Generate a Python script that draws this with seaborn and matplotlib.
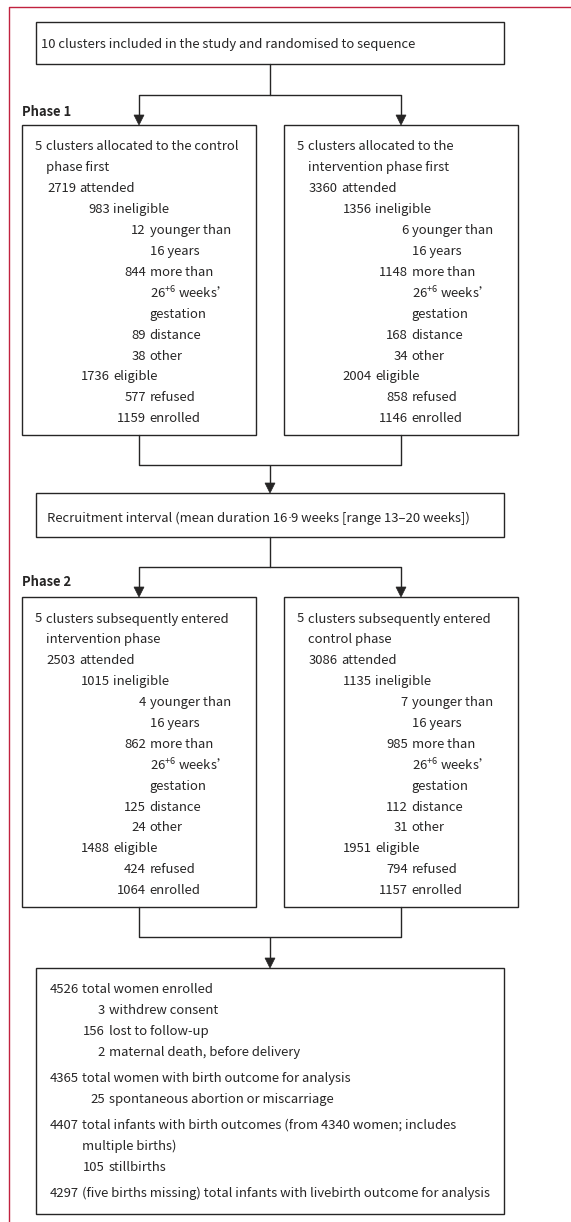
import matplotlib

matplotlib.use("Agg")
import matplotlib.pyplot as plt
import seaborn as sns
from matplotlib.patches import Polygon, Rectangle

# --- data -------------------------------------------------------------------
top_label = "10 clusters included in the study and randomised to sequence"
interval_parts = ["Recruitment interval (mean duration 16", "·", "9 weeks [range 13–20 weeks])"]
phase_labels = ["Phase 1", "Phase 2"]

header_counts = ["5", "5", "5", "5"]
header_lines = [
    ["clusters allocated to the control", "phase first"],
    ["clusters allocated to the", "intervention phase first"],
    ["clusters subsequently entered", "intervention phase"],
    ["clusters subsequently entered", "control phase"],
]

flow_labels = ["attended", "ineligible", "younger than", "16 years", "more than",
               "26$^{+6}$ weeks’", "gestation", "distance", "other", "eligible",
               "refused", "enrolled"]
flow_levels = [1, 2, 3, 3, 3, 3, 3, 3, 3, 2, 3, 3]

phase1_control = [2719, 983, 12, None, 844, None, None, 89, 38, 1736, 577, 1159]
phase1_intervention = [3360, 1356, 6, None, 1148, None, None, 168, 34, 2004, 858, 1146]
phase2_intervention = [2503, 1015, 4, None, 862, None, None, 125, 24, 1488, 424, 1064]
phase2_control = [3086, 1135, 7, None, 985, None, None, 112, 31, 1951, 794, 1157]

outcome_counts = ["4526", "3", "156", "2", "4365", "25", "4407", "", "105", "4297"]
outcome_labels = ["total women enrolled", "withdrew consent", "lost to follow-up",
                  "maternal death, before delivery",
                  "total women with birth outcome for analysis",
                  "spontaneous abortion or miscarriage",
                  "total infants with birth outcomes (from 4340 women; includes",
                  "multiple births)", "stillbirths",
                  "(five births missing) total infants with livebirth outcome for analysis"]
outcome_levels = [0, 1, 1, 1, 0, 1, 0, 0, 1, 0]
outcome_groups = [0, 0, 0, 0, 1, 1, 2, 2, 2, 3]

# --- style ------------------------------------------------------------------
sns.set_theme(style="white")
family = "Noto Sans CJK SC"
plt.rcParams["font.family"] = [family, "DejaVu Sans"]
plt.rcParams["mathtext.fontset"] = "custom"
plt.rcParams["mathtext.rm"] = family
plt.rcParams["mathtext.default"] = "regular"

INK = "#262525"
FRAME = "#c1223f"
LW = 1.0
GAP = 3.5

fig = plt.figure(figsize=(5.71, 12.22), dpi=100)
ax = fig.add_axes([0, 0, 1, 1])
ax.set_xlim(0, 571)
ax.set_ylim(1222, 0)
ax.axis("off")
renderer = fig.canvas.get_renderer()

# fit the font size so the top label has the width it has in the original
probe = ax.text(0, 0, top_label, fontsize=10)
fs = 10 * 376 / probe.get_window_extent(renderer).width
probe.remove()


def box(x0, y0, x1, y1):
    ax.add_patch(Rectangle((x0, y0), x1 - x0, y1 - y0, fill=False, ec=INK, lw=LW))


def arrow(x, y0, y1):
    ax.plot([x, x], [y0, y1 - 8], color=INK, lw=LW, solid_capstyle="butt")
    ax.add_patch(Polygon([(x - 5, y1 - 10), (x + 5, y1 - 10), (x, y1)],
                         closed=True, fc=INK, ec=INK, lw=0.5))


def split(x_left, x_right, x_mid, y_top, y_bar, y_end):
    ax.plot([x_mid, x_mid], [y_top, y_bar], color=INK, lw=LW)
    ax.plot([x_left, x_right], [y_bar, y_bar], color=INK, lw=LW)
    arrow(x_left, y_bar, y_end)
    arrow(x_right, y_bar, y_end)


def join(x_left, x_right, x_mid, y_top, y_bar, y_end):
    ax.plot([x_left, x_left, x_right, x_right], [y_top, y_bar, y_bar, y_top], color=INK, lw=LW)
    arrow(x_mid, y_bar, y_end)


def entry(x_num, y, count, label, gap=GAP):
    if count:
        ax.text(x_num, y, count, ha="right", va="center_baseline", fontsize=fs, color=INK)
    ax.text(x_num + gap, y, label, ha="left", va="center_baseline", fontsize=fs, color=INK)


def phase_box(x0, y0, idx, counts):
    cols = [20, 54, 88, 124]
    box(x0, y0, x0 + 234, y0 + 310)
    y = y0 + 20.5
    entry(x0 + cols[0], y, header_counts[idx], header_lines[idx][0])
    y += 20.9
    entry(x0 + cols[0], y, "", header_lines[idx][1])
    for level, label, count in zip(flow_levels, flow_labels, counts):
        y += 20.9
        entry(x0 + cols[level], y, "" if count is None else str(count), label)


# red page rule
ax.plot([9, 9, 571], [1222, 7, 7], color=FRAME, lw=1.0)

# top box
box(36, 22, 504, 64)
ax.text(41, 43, top_label, ha="left", va="center_baseline", fontsize=fs, color=INK)
split(139, 401, 270, 64, 95, 125)
ax.text(22, 110, phase_labels[0], ha="left", va="center_baseline", fontsize=fs,
        fontweight="bold", color=INK)

phase_box(22, 125, 0, phase1_control)
phase_box(284, 125, 1, phase1_intervention)
join(139, 401, 270, 435, 465, 493)

# the CJK font draws "·" full width, so the decimal point comes from DejaVu
box(36, 493, 504, 537)
x = 47
for part in interval_parts:
    fam = ["DejaVu Sans"] if part == "·" else [family, "DejaVu Sans"]
    t = ax.text(x, 517, part, ha="left", va="center_baseline", fontsize=fs,
                color=INK, family=fam)
    x += t.get_window_extent(renderer).width
split(139, 401, 270, 537, 567, 597)
ax.text(22, 581, phase_labels[1], ha="left", va="center_baseline", fontsize=fs,
        fontweight="bold", color=INK)

phase_box(22, 597, 2, phase2_intervention)
phase_box(284, 597, 3, phase2_control)
join(139, 401, 270, 907, 937, 968)

# outcomes
box(36, 968, 504, 1214)
out_cols = [79, 105]
y = 988
prev_group = 0
for i, (count, label, level, group) in enumerate(zip(outcome_counts, outcome_labels,
                                                      outcome_levels, outcome_groups)):
    if i:
        y += 20.9 + (5.3 if group != prev_group else 0)
    prev_group = group
    entry(out_cols[level], y, count, label, gap=GAP if level == 0 else 4)

fig.savefig("out.png", dpi=100)
plt.close(fig)
